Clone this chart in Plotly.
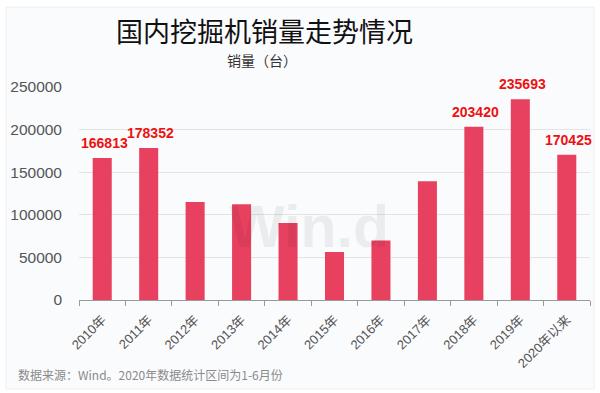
import plotly.graph_objects as go

categories = ["2010年", "2011年", "2012年", "2013年", "2014年", "2015年",
              "2016年", "2017年", "2018年", "2019年", "2020年以来"]
sales = [166813, 178352, 115000, 112300, 90500, 56300, 69800, 139500, 203420, 235693, 170425]
label_flags = [True, True, False, False, False, False, False, False, True, True, True]
y_ticks = [0, 50000, 100000, 150000, 200000, 250000]

W, H = 600, 393
L, R, T, B = 79, 10, 87, 93
pw, ph = W - L - R, H - T - B

def px(x):
    return (x - L) / pw

def py(y):
    return (H - B - y) / ph

fig = go.Figure()
fig.add_trace(go.Bar(
    x=categories, y=sales,
    marker=dict(color="#e8415f", line=dict(color="#e8415f", width=0)),
    cliponaxis=False,
))

value_annotations = [
    dict(x=c, y=v, xref="x", yref="y", text=str(v), showarrow=False,
         xanchor="center", yanchor="bottom", yshift=5, xshift=2,
         font=dict(color="#ee1111", size=14, family="Arial", weight="bold"))
    for c, v, f in zip(categories, sales, label_flags) if f
]

fig.update_layout(
    width=W, height=H,
    margin=dict(l=L, r=R, t=T, b=B, autoexpand=False),
    paper_bgcolor="white", plot_bgcolor="rgba(0,0,0,0)",
    bargap=0.59, showlegend=False,
    font=dict(family="Arial, Noto Sans CJK SC", color="#555"),
    xaxis=dict(
        type="category", tickangle=-45, automargin=False,
        tickfont=dict(size=13, color="#555", family="Arial, Noto Sans CJK SC"),
        showline=True, linecolor="#999", linewidth=1,
        ticks="outside", ticklen=5, tickcolor="#999", tickson="boundaries",
        showgrid=False, range=[-0.5, 10.5], ticklabelstandoff=6,
    ),
    yaxis=dict(
        range=[0, 250000], tickvals=y_ticks, ticktext=[str(v) for v in y_ticks],
        automargin=False,
        tickfont=dict(size=15.5, color="#555", family="Arial"),
        showgrid=True, gridcolor="#e4e4e4", gridwidth=1,
        zeroline=False, showline=False, ticklabelstandoff=16,
    ),
    shapes=[
        dict(type="rect", xref="paper", yref="paper", layer="below",
             x0=px(6), x1=px(594), y0=py(389), y1=py(7),
             fillcolor="#fafbfd", line=dict(color="#eceef2", width=1)),
    ],
    annotations=[
        dict(text="国内挖掘机销量走势情况", xref="paper", yref="paper",
             x=px(264), y=py(31), xanchor="center", yanchor="middle", showarrow=False,
             font=dict(size=27, color="#111", family="Noto Sans CJK SC")),
        dict(text="销量（台）", xref="paper", yref="paper",
             x=px(262), y=py(60), xanchor="center", yanchor="middle", showarrow=False,
             font=dict(size=14, color="#333", family="Noto Sans CJK SC")),
        dict(text="<b>Win.d</b>", xref="paper", yref="paper",
             x=px(309), y=py(227), xanchor="center", yanchor="middle", showarrow=False,
             font=dict(size=59, color="rgba(0,0,0,0.06)", family="Arial")),
        dict(text="数据来源：Wind。2020年数据统计区间为1-6月份", xref="paper", yref="paper",
             x=px(16), y=py(374), xanchor="left", yanchor="middle", showarrow=False,
             font=dict(size=12, color="#8a8a8a", family="Noto Sans CJK SC")),
    ] + value_annotations,
)

fig.write_html("out.html", config={"displayModeBar": False},
               post_script="document.body.style.margin='0';document.body.style.padding='0';")
